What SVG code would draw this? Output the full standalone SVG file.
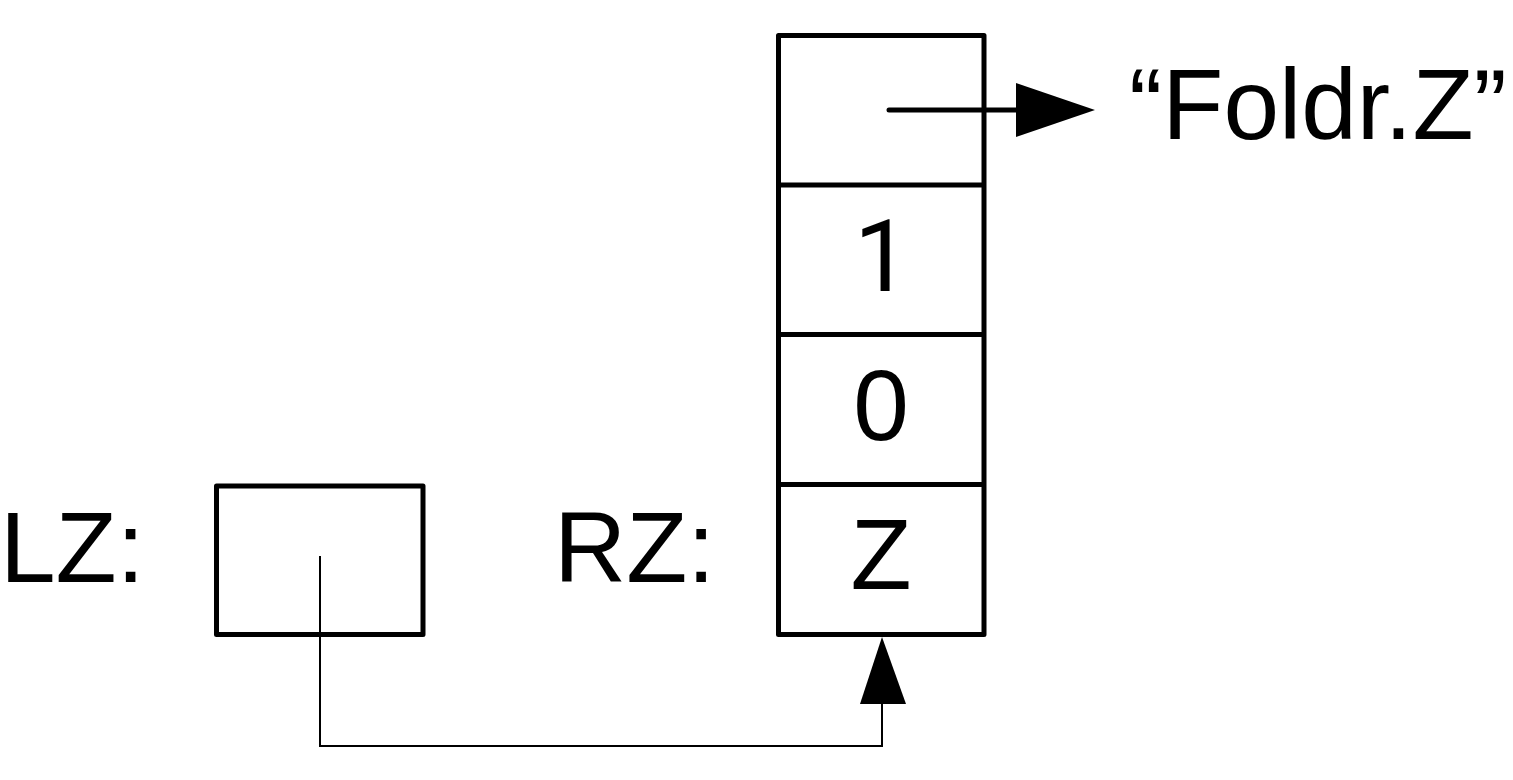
<svg xmlns="http://www.w3.org/2000/svg" width="1513" height="780" viewBox="0 0 1513 780">
<style>
.box{fill:#fff;stroke:#000;stroke-width:5;stroke-linejoin:round}
.div{stroke:#000;stroke-width:5}
.t{font-family:"Liberation Sans",Arial,sans-serif;font-size:100px;fill:#000}
.r{font-family:Roboto,"Liberation Sans",Arial,sans-serif}
.c{text-anchor:middle}
.thin{fill:none;stroke:#000;stroke-width:2}
</style>
<rect width="1513" height="780" fill="#fff"/>
<g id="lz">
<text class="t" x="0" y="582">LZ:</text>
<rect class="box" x="216.5" y="486" width="206.5" height="148.5"/>
</g>
<g id="rz">
<text class="t" x="554" y="582">RZ:</text>
<rect class="box" x="778.5" y="35.5" width="205.5" height="599"/>
<line class="div" x1="778.5" y1="185" x2="984" y2="185"/>
<line class="div" x1="778.5" y1="334.5" x2="984" y2="334.5"/>
<line class="div" x1="778.5" y1="484.5" x2="984" y2="484.5"/>
<text class="t r c" x="882" y="291">1</text>
<text class="t c" x="881" y="440">0</text>
<text class="t c" x="881" y="589">Z</text>
</g>
<g id="foldr">
<text class="t" x="1129" y="139">“Foldr.Z”</text>
</g>
<g id="connectors">
<line x1="889" y1="110" x2="1018" y2="110" stroke="#000" stroke-width="5" stroke-linecap="round"/>
<polygon points="1016,83 1095,110 1016,137" fill="#000"/>
<path class="thin" d="M320,556 V746 H882 V702"/>
<polygon points="860,704 882,637 906,704" fill="#000"/>
</g>
</svg>
